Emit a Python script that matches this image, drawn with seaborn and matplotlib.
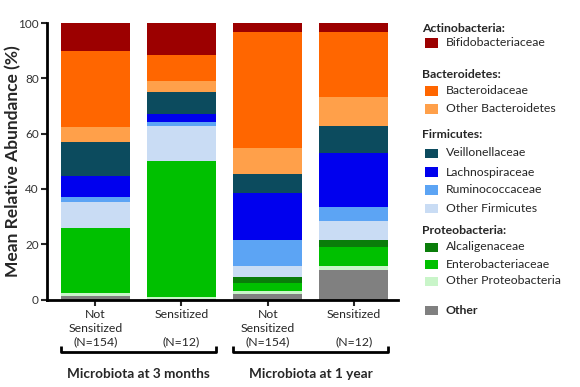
import numpy as np
import pandas as pd
import matplotlib
matplotlib.use("Agg")
import matplotlib.pyplot as plt
from matplotlib.patches import Rectangle
import seaborn as sns

# datos (orden de abajo hacia arriba)
muestras = ["ns_3m", "s_3m", "ns_1a", "s_1a"]
etiquetas_x = ["Not\nSensitized\n(N=154)", "Sensitized\n\n(N=12)",
               "Not\nSensitized\n(N=154)", "Sensitized\n\n(N=12)"]
grupos = ["Microbiota at 3 months", "Microbiota at 1 year"]

familias = ["Other", "Other Proteobacteria", "Enterobacteriaceae", "Alcaligenaceae",
            "Other Firmicutes", "Ruminococcaceae", "Lachnospiraceae", "Veillonellaceae",
            "Other Bacteroidetes", "Bacteroidaceae", "Bifidobacteriaceae"]

other = [1.3, 0.3, 1.9, 10.7]
other_proteo = [0.9, 0.5, 1.1, 1.5]
entero = [23.5, 49.3, 3.0, 6.9]
alcalig = [0.3, 0.0, 2.2, 2.5]
other_firm = [9.1, 12.8, 3.9, 6.7]
rumino = [2.1, 1.4, 9.5, 5.3]
lachno = [7.5, 2.8, 16.8, 19.5]
veillon = [12.4, 8.1, 7.1, 9.7]
other_bact = [5.2, 3.7, 9.2, 10.4]
bacteroid = [27.7, 9.4, 42.0, 23.7]
bifido = [10.0, 11.7, 3.3, 3.1]

colores = {
    "Bifidobacteriaceae": "#9c0000",
    "Bacteroidaceae": "#ff6600",
    "Other Bacteroidetes": "#ffa04a",
    "Veillonellaceae": "#0c4b5e",
    "Lachnospiraceae": "#0000ee",
    "Ruminococcaceae": "#5ca4f4",
    "Other Firmicutes": "#c9dcf4",
    "Alcaligenaceae": "#0a7d0a",
    "Enterobacteriaceae": "#00c000",
    "Other Proteobacteria": "#c9f5c9",
    "Other": "#808080",
}

# leyenda: (texto, es_cabecera, fila en px desde arriba)
leyenda = [
    ("Actinobacteria:", True, 28), ("Bifidobacteriaceae", False, 43),
    ("Bacteroidetes:", True, 75), ("Bacteroidaceae", False, 91),
    ("Other Bacteroidetes", False, 109),
    ("Firmicutes:", True, 135), ("Veillonellaceae", False, 153),
    ("Lachnospiraceae", False, 172), ("Ruminococcaceae", False, 190),
    ("Other Firmicutes", False, 208),
    ("Proteobacteria:", True, 230), ("Alcaligenaceae", False, 247),
    ("Enterobacteriaceae", False, 264), ("Other Proteobacteria", False, 281),
    ("Other", False, 310),
]

valores = np.array([other, other_proteo, entero, alcalig, other_firm, rumino,
                    lachno, veillon, other_bact, bacteroid, bifido])
acumulado = np.cumsum(valores, axis=0)

sns.set_style("ticks")
plt.rcParams['font.family'] = ['Lato', 'DejaVu Sans']

fig = plt.figure(figsize=(5.8, 3.87), dpi=100)
ax = fig.add_axes([0.081, 0.226, 0.605, 0.7145])

# barras apiladas: se dibuja de arriba hacia abajo
for i in range(len(familias) - 1, -1, -1):
    df = pd.DataFrame({"muestra": muestras, "valor": acumulado[i]})
    sns.barplot(data=df, x="muestra", y="valor", order=muestras, color=colores[familias[i]],
                saturation=1, width=0.8, linewidth=0, errorbar=None, ax=ax)

ax.set_xlim(-0.56, 3.51)
ax.set_ylim(0, 100)
ax.set_yticks([0, 20, 40, 60, 80, 100])
ax.set_xticks(range(4))
ax.set_xticklabels(etiquetas_x, fontsize=8.8, linespacing=1.3)
ax.tick_params(axis="y", labelsize=8.5, width=1.5, length=4, pad=2, labelcolor="#333333")
ax.tick_params(axis="x", width=1.5, length=4, pad=3)
ax.set_xlabel("")
ax.set_ylabel("Mean Relative Abundance (%)", fontsize=12.5, fontweight="bold")
ax.yaxis.set_label_coords(-0.072, 0.5)
sns.despine(ax=ax)
for lado in ["left", "bottom"]:
    ax.spines[lado].set_linewidth(2)
    ax.spines[lado].set_color("black")

# corchetes de grupo
trans = ax.get_xaxis_transform()
for j, (x0, x1) in enumerate([(-0.4, 1.4), (1.6, 3.4)]):
    yb = -0.19
    ax.plot([x0, x0, x1, x1], [yb + 0.022, yb, yb, yb + 0.022], color="black", lw=2,
            transform=trans, clip_on=False, solid_capstyle="butt")
    ax.text((x0 + x1) / 2, -0.27, grupos[j], transform=trans, ha="center", va="center",
            fontsize=9.8, fontweight="bold")

# leyenda manual
for texto, cabecera, fila in leyenda:
    y = (387 - fila) / 387
    if cabecera:
        fig.text(422 / 580, y, texto, fontsize=8.8, fontweight="bold", va="center")
    else:
        fig.add_artist(Rectangle((425 / 580, y - 4.5 / 387), 13 / 580, 9 / 387,
                                 transform=fig.transFigure, color=colores[texto], lw=0))
        fig.text(446 / 580, y, texto, fontsize=8.8, va="center",
                 fontweight="bold" if texto == "Other" else "normal")

fig.savefig("out.png", dpi=100)
